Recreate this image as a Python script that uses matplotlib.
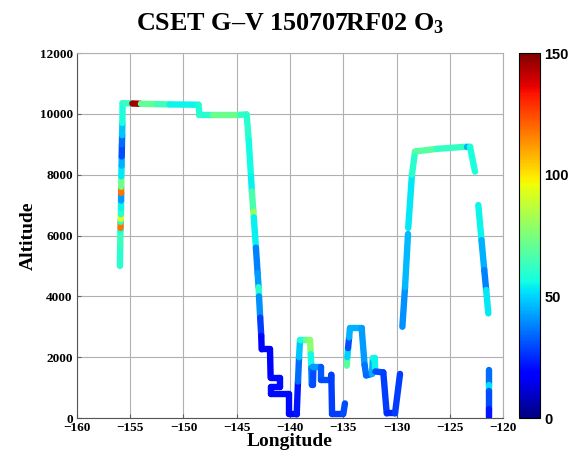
"""
Flight track of the CSET G-V research flight 150707RF02, coloured by ozone.
"""

import numpy as np
import matplotlib
matplotlib.use('Agg')
import matplotlib.pyplot as plt
from matplotlib.collections import LineCollection

# track vertices (None breaks the track between legs)
lon = [-155.97, -155.94, -155.92, -155.91, -155.90, -155.89, -155.88, -155.87,
       -155.86, -155.855, -155.85, -155.84, -155.81, -155.80, -155.78, -155.76,
       -155.74, -155.72, -154.8, -154.0, -152.5, -151.3, -148.6, -148.5,
       -147.2, -144.7, -144.07, -143.88, -143.66, -143.58, -143.44, -143.40,
       -143.20, -143.04, -142.95, -142.91, -142.80, -142.70, -142.66, -141.88,
       -141.82, -140.95, -140.95, -141.75, -141.75, -140.06, -140.06, -139.37,
       -139.25, -139.15, -139.06, -138.5, -138.12, -138.05, -138.0, -137.96,
       -137.85, -137.80, -137.05, -137.05, -136.15, -136.12, -136.05, -135.0,
       -134.84, None,
       -134.67, -134.62, -134.55, -134.45, -134.37, -133.27, -133.0, -132.85,
       -132.30, -132.22, -132.05, -132.0, -131.24, -130.92, -130.14, -129.67,
       None,
       -129.45, -129.2, -128.92, None,
       -128.90, -128.55, -128.26, -126.2, -123.4, -123.1, -122.63, None,
       -122.32, -122.02, -121.76, -121.58, -121.38, None,
       -121.28, -121.28, -121.28, -121.28, -121.28]
alt = [5000, 5700, 6150, 6250, 6450, 6550, 6700, 6900,
       7150, 7400, 7600, 7950, 8300, 8600, 9000, 9300,
       9700, 10350, 10340, 10330, 10320, 10310, 10300, 9970,
       9970, 9970, 9980, 9140, 7935, 7450, 6780, 6600,
       5600, 4760, 4300, 4000, 3300, 2700, 2260, 2260,
       1330, 1330, 1030, 1030, 800, 800, 120, 120,
       1200, 2000, 2560, 2560, 2560, 2100, 1650, 1100,
       1100, 1680, 1680, 1250, 1250, 1420, 130, 130,
       480, None,
       1720, 2000, 2300, 2650, 2950, 2950, 1750, 1400,
       1450, 1970, 1970, 1530, 1500, 150, 150, 1450,
       None,
       3000, 4300, 6050, None,
       6250, 8000, 8760, 8850, 8920, 8920, 8100, None,
       7000, 5850, 4865, 4210, 3440, None,
       1580, 1100, 900, 300, 20]
o3 = [60, 63, 58, 118, 60, 92, 60, 55,
      42, 118, 72, 53, 45, 30, 35, 48,
      58, 62, 145, 70, 64, 55, 58, 60,
      72, 62, 60, 56, 54, 66, 80, 54,
      38, 42, 60, 40, 28, 18, 18, 18,
      20, 20, 20, 20, 20, 20, 20, 22,
      35, 48, 58, 72, 78, 56, 38, 30,
      30, 42, 32, 30, 30, 28, 28, 30,
      30, None,
      68, 50, 30, 45, 45, 42, 36, 34,
      45, 58, 55, 30, 28, 25, 28, 28,
      None,
      40, 46, 46, None,
      53, 60, 68, 62, 45, 58, 58, None,
      55, 45, 38, 53, 53, None,
      35, 52, 30, 22, 22]

x_ticks = [-160, -155, -150, -145, -140, -135, -130, -125, -120]
y_ticks = [0, 2000, 4000, 6000, 8000, 10000, 12000]
cbar_ticks = [0, 50, 100, 150]

lon = np.array(lon, dtype=float)
alt = np.array(alt, dtype=float)
o3 = np.array(o3, dtype=float)

plt.rcParams['font.family'] = 'Liberation Serif'
plt.rcParams['font.weight'] = 'bold'
plt.rcParams['mathtext.fontset'] = 'custom'
plt.rcParams['mathtext.rm'] = 'Liberation Serif:bold'
plt.rcParams['mathtext.it'] = 'Liberation Serif:bold'

fig = plt.figure(figsize=(5.72, 4.57), dpi=100)
ax = fig.add_axes([0.1346, 0.0853, 0.7448, 0.7987])
cax = fig.add_axes([0.9073, 0.0853, 0.0367, 0.7987])

# build the segments between consecutive vertices, skip the breaks
segs = []
vals = []
for i in range(len(lon) - 1):
    if np.isnan(lon[i]) or np.isnan(lon[i + 1]):
        continue
    segs.append([(lon[i], alt[i]), (lon[i + 1], alt[i + 1])])
    vals.append(o3[i])

norm = plt.Normalize(0, 150)
lc = LineCollection(segs, cmap='jet', norm=norm, linewidths=4.6,
                    capstyle='round', joinstyle='round', zorder=3)
lc.set_array(np.array(vals))
ax.add_collection(lc)

ax.set_xlim(-160, -120)
ax.set_ylim(0, 12000)
ax.set_xticks(x_ticks)
ax.set_yticks(y_ticks)
ax.grid(True, color='#b0b0b0', linewidth=0.8, zorder=0)
ax.set_axisbelow(True)
ax.tick_params(direction='in', length=3, color='#606060', labelsize=9.5, pad=3)
for side in ['left', 'bottom']:
    ax.spines[side].set_color('#555555')
for side in ['top', 'right']:
    ax.spines[side].set_color('#b0b0b0')

ax.set_xlabel('Longitude', fontsize=14, fontweight='bold', labelpad=-1)
ax.set_ylabel('Altitude', fontsize=14, fontweight='bold', labelpad=2)
ax.set_title('CSET G\u2013V 150707RF02 O$_3$', fontsize=18.8,
             fontweight='bold', pad=16)

cb = fig.colorbar(lc, cax=cax, ticks=cbar_ticks)
cb.outline.set_linewidth(0.8)
cb.ax.tick_params(length=0, pad=3)
for t in cb.ax.get_yticklabels():
    t.set_fontfamily('Liberation Sans')
    t.set_fontweight('bold')
    t.set_fontsize(10.5)

fig.savefig('out.png', dpi=100)
